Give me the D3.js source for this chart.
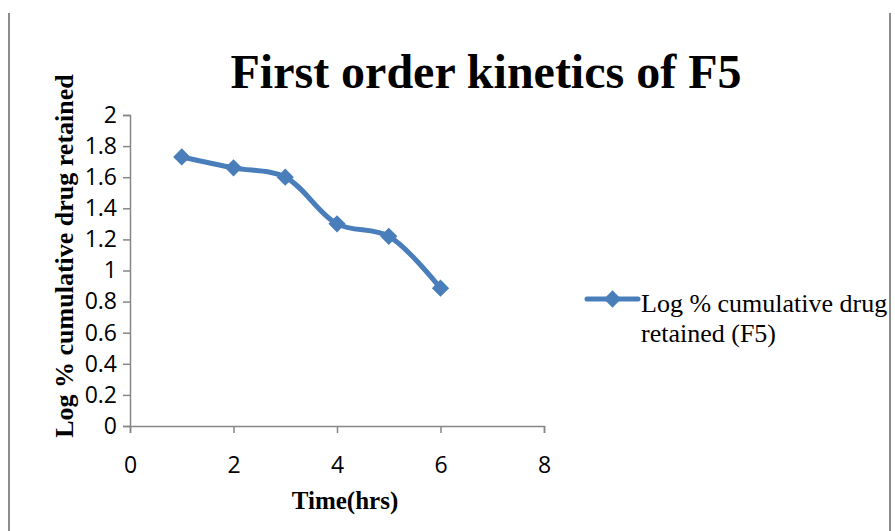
<!DOCTYPE html>
<html>
<head>
<meta charset="utf-8">
<script src="https://cdn.jsdelivr.net/npm/d3@7"></script>
<style>
  body { margin: 0; background: #fff; }
  svg { display: block; }
</style>
</head>
<body>
<script>
// data
const times = [1, 2, 3, 4, 5, 6];
const logRetained = [1.73, 1.66, 1.60, 1.30, 1.22, 0.886];
const xTicks = [0, 2, 4, 6, 8];
const yTicks = [0, 0.2, 0.4, 0.6, 0.8, 1, 1.2, 1.4, 1.6, 1.8, 2];
const seriesName = ["Log % cumulative drug", "retained (F5)"];

const w = 895, h = 531;
const blue = "#4a7ebb";
const serif = "'Liberation Serif', 'Times New Roman', serif";

const svg = d3.select("body").append("svg")
  .attr("width", w)
  .attr("height", h);

const x = d3.scaleLinear().domain([0, 8]).range([130, 544]);
const y = d3.scaleLinear().domain([0, 2]).range([426, 115]);

// title
svg.append("text")
  .attr("x", 486).attr("y", 88)
  .attr("text-anchor", "middle")
  .style("font-family", serif)
  .style("font-weight", "bold")
  .style("font-size", "48px")
  .text("First order kinetics of F5");

// y axis
const yAxis = svg.append("g")
  .attr("transform", "translate(" + x(0) + ",0)")
  .call(d3.axisLeft(y).tickValues(yTicks).tickSize(7).tickPadding(6)
    .tickFormat(d => d3.format("~g")(d)));
// x axis
const xAxis = svg.append("g")
  .attr("transform", "translate(0," + y(0) + ")")
  .call(d3.axisBottom(x).tickValues(xTicks).tickSize(7).tickPadding(24));

[xAxis, yAxis].forEach(g => {
  g.select(".domain").attr("stroke", "#868686").attr("stroke-width", 1.5);
  g.selectAll(".tick line").attr("stroke", "#868686").attr("stroke-width", 1.5);
  g.selectAll(".tick text")
    .attr("fill", "#000")
    .style("font-family", "'Open Sans', 'Liberation Sans', sans-serif")
    .style("font-size", "23px");
});

// axis titles
svg.append("text")
  .attr("transform", "translate(73,256) rotate(-90)")
  .attr("text-anchor", "middle")
  .style("font-family", serif)
  .style("font-weight", "bold")
  .style("font-size", "26px")
  .text("Log % cumulative drug retained");

svg.append("text")
  .attr("x", 345).attr("y", 509)
  .attr("text-anchor", "middle")
  .style("font-family", serif)
  .style("font-weight", "bold")
  .style("font-size", "25px")
  .text("Time(hrs)");

// series
const pts = times.map((t, i) => [t, logRetained[i]]);
const line = d3.line()
  .x(d => x(d[0]))
  .y(d => y(d[1]))
  .curve(d3.curveCatmullRom.alpha(0.5));

svg.append("path")
  .datum(pts)
  .attr("d", line)
  .attr("fill", "none")
  .attr("stroke", blue)
  .attr("stroke-width", 5)
  .attr("stroke-linejoin", "round");

const diamond = d3.symbol().type(d3.symbolDiamond2).size(190);
svg.selectAll("path.marker")
  .data(pts)
  .enter()
  .append("path")
  .attr("class", "marker")
  .attr("transform", d => "translate(" + x(d[0]) + "," + y(d[1]) + ")")
  .attr("d", diamond)
  .attr("fill", blue);

// legend
const lg = svg.append("g").attr("transform", "translate(587,299)");
lg.append("line").attr("x1", 0).attr("x2", 51).attr("y1", 0).attr("y2", 0)
  .attr("stroke", blue).attr("stroke-width", 5).attr("stroke-linecap", "round");
lg.append("path").attr("transform", "translate(25.5,0)").attr("d", diamond).attr("fill", blue);
lg.selectAll("text.leg")
  .data(seriesName)
  .enter()
  .append("text")
  .attr("class", "leg")
  .attr("x", 54)
  .attr("y", (d, i) => 13 + i * 30)
  .style("font-family", serif)
  .style("font-size", "26px")
  .text(d => d);

// frame lines at left and right edges
svg.append("line").attr("x1", 9).attr("x2", 9).attr("y1", 13).attr("y2", h)
  .attr("stroke", "#8c8c8c").attr("stroke-width", 2);
svg.append("line").attr("x1", 890).attr("x2", 890).attr("y1", 13).attr("y2", h)
  .attr("stroke", "#8c8c8c").attr("stroke-width", 2);
</script>
</body>
</html>
